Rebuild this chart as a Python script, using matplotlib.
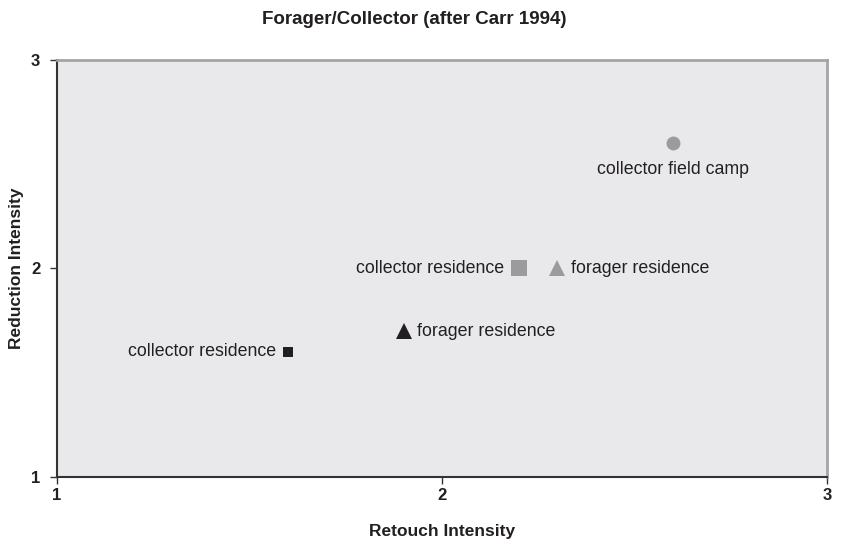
import matplotlib
matplotlib.use("Agg")
import matplotlib.pyplot as plt

plt.rcParams['font.family'] = ['Liberation Sans', 'DejaVu Sans']

# Data
labels = ["collector field camp", "collector residence", "forager residence",
          "forager residence", "collector residence"]
retouch = [2.6, 2.2, 2.3, 1.9, 1.6]
reduction = [2.6, 2.0, 2.0, 1.7, 1.6]
markers = ["o", "s", "^", "^", "s"]
colors = ["#9b9b9e", "#9b9b9e", "#9b9b9e", "#231f20", "#231f20"]
sizes = [10, 12.2, 12, 11.5, 6.5]
# label placement: (dx, dy in points, ha, va)
label_pos = [(0, -19, "center", "center"), (-11, 0, "right", "center"),
             (10, 0, "left", "center"), (10, 0, "left", "center"),
             (-8.3, 0, "right", "center")]
xticks = [1, 2, 3]
yticks = [1, 2, 3]

fig = plt.figure(figsize=(8.41, 5.44), dpi=100)
ax = fig.add_axes([57/841, 1-477/544, (827-57)/841, (477-60)/544])
ax.set_facecolor("#e9e9eb")

for x, y, m, c, s, lab, (dx, dy, ha, va) in zip(retouch, reduction, markers, colors, sizes, labels, label_pos):
    ax.plot([x], [y], marker=m, color=c, markersize=s, linestyle="none", markeredgewidth=0, zorder=3)
    ax.annotate(lab, (x, y), xytext=(dx, dy), textcoords="offset points",
                ha=ha, va=va, fontsize=12.8, color="#231f20")

ax.set_xlim(1, 3)
ax.set_ylim(1, 3)
ax.set_xticks(xticks)
ax.set_yticks(yticks)
ax.set_xticklabels([str(t) for t in xticks], fontweight="bold", fontsize=12)
ax.set_yticklabels([str(t) for t in yticks], fontweight="bold", fontsize=12)
ax.tick_params(axis="both", direction="out", length=5, width=1, color="#333333", labelcolor="#231f20")
ax.tick_params(axis="x", pad=3)
ax.tick_params(axis="y", pad=7)

for side in ["top", "right"]:
    ax.spines[side].set_color("#a5a5a8")
    ax.spines[side].set_linewidth(2)
for side in ["left", "bottom"]:
    ax.spines[side].set_color("#333333")
    ax.spines[side].set_linewidth(1.5)

ax.set_xlabel("Retouch Intensity", fontweight="bold", fontsize=12.5, labelpad=15, color="#231f20")
ax.set_ylabel("Reduction Intensity", fontweight="bold", fontsize=12.5, labelpad=5, color="#231f20")
fig.text(414/841, 1-19/544, "Forager/Collector (after Carr 1994)", ha="center", va="center",
         fontweight="bold", fontsize=13.5, color="#231f20")

fig.savefig("out.png", dpi=100, facecolor="white")
